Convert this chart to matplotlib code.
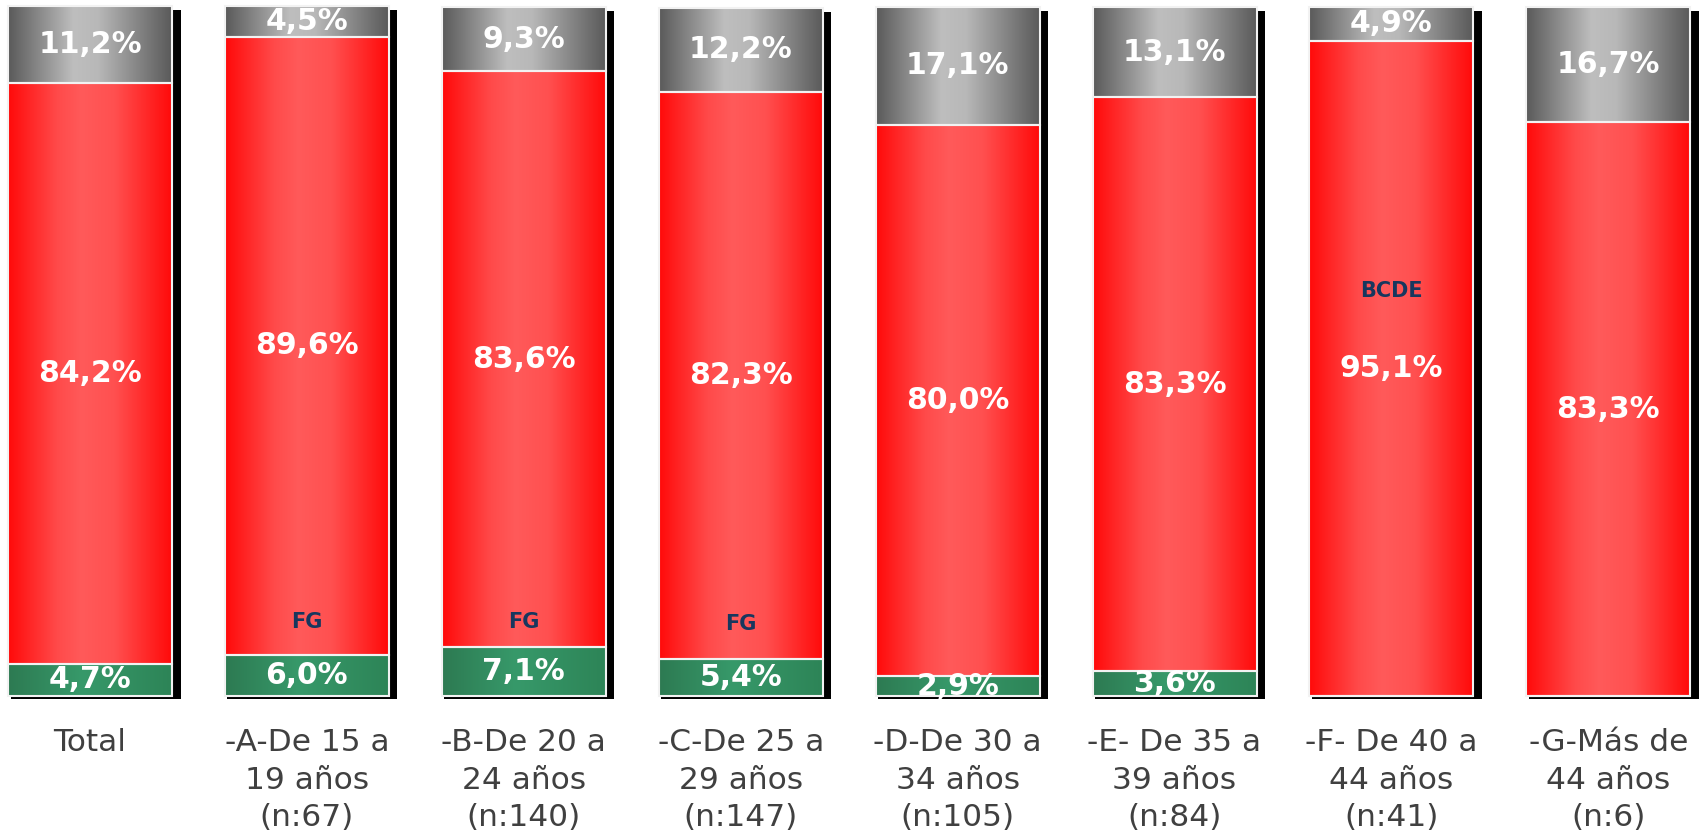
# Stacked 100% bars by age group, with gradient fills and drop shadows.
import matplotlib
matplotlib.use("Agg")
import matplotlib.pyplot as plt
import numpy as np
from matplotlib.colors import LinearSegmentedColormap

categories = ["Total", "-A-De 15 a\n19 años\n(n:67)", "-B-De 20 a\n24 años\n(n:140)",
              "-C-De 25 a\n29 años\n(n:147)", "-D-De 30 a\n34 años\n(n:105)",
              "-E- De 35 a\n39 años\n(n:84)", "-F- De 40 a\n44 años\n(n:41)",
              "-G-Más de\n44 años\n(n:6)"]
green = [4.7, 6.0, 7.1, 5.4, 2.9, 3.6, 0.0, 0.0]
red = [84.2, 89.6, 83.6, 82.3, 80.0, 83.3, 95.1, 83.3]
gray = [11.2, 4.5, 9.3, 12.2, 17.1, 13.1, 4.9, 16.7]
# significance letters: (bar index, y position in %, text)
letters = [(1, 10.7, "FG"), (2, 10.7, "FG"), (3, 10.4, "FG"), (6, 58.8, "BCDE")]

BAR_W = 0.756
PX = 7.856 / 1704  # data units per pixel along x
PY = 100 / 689     # data units per pixel along y

grad = {
    "green": LinearSegmentedColormap.from_list("g", [(0, "#2d7a52"), (0.45, "#37996a"), (1, "#2d8457")]),
    "red": LinearSegmentedColormap.from_list("r", [(0, "#ff0a0a"), (0.3, "#ff4a4a"), (0.45, "#ff5a5a"),
                                                   (0.65, "#ff5050"), (1, "#ff0a0a")]),
    "gray": LinearSegmentedColormap.from_list("k", [(0, "#5a5a5a"), (0.4, "#bebebe"), (0.55, "#b8b8b8"),
                                                    (1, "#5a5a5a")]),
}

fig = plt.figure(figsize=(17.04, 8.38), dpi=100)
ax = fig.add_axes([0, 1 - 696 / 838, 1, 689 / 838])
x = np.arange(len(categories))

# black drop shadow behind each column
tot = np.array(green) + np.array(red) + np.array(gray)
ax.bar(x + 5.5 * PX, tot - 1 * PY, width=BAR_W + 6 * PX, bottom=-3 * PY,
       color="black", zorder=1, clip_on=False)

ramp = np.linspace(0, 1, 256).reshape(1, -1)
bottoms = np.zeros(len(x))
for vals, key in [(green, "green"), (red, "red"), (gray, "gray")]:
    bars = ax.bar(x, vals, width=BAR_W, bottom=bottoms, facecolor="none",
                  edgecolor="#f2f2f2", linewidth=1.5, zorder=3, clip_on=False)
    for b, v, bt in zip(bars, vals, bottoms):
        if v <= 0:
            continue
        x0, w = b.get_x(), b.get_width()
        im = ax.imshow(ramp, cmap=grad[key], aspect="auto", interpolation="bilinear",
                       extent=(x0, x0 + w, bt, bt + v), zorder=2)
        im.set_clip_path(b)
        ax.text(x0 + w / 2, bt + v / 2, f"{v:.1f}%".replace(".", ","), ha="center", va="center",
                color="white", fontsize=21.5, fontweight="bold", zorder=5, clip_on=False)
    bottoms = bottoms + np.array(vals)

for i, yv, t in letters:
    ax.text(x[i], yv, t, ha="center", va="center", color="#17375e",
            fontsize=15, fontweight="bold", zorder=5)

ax.set_xticks(x)
ax.set_xticklabels(categories, fontsize=22.5, color="#404040", linespacing=1.38)
ax.tick_params(axis="x", length=0, pad=23)
ax.set_yticks([])
for s in ax.spines.values():
    s.set_visible(False)
ax.set_xlim(-0.415, 7.441)
ax.set_ylim(0, 100)

fig.savefig("out.png", dpi=100)
